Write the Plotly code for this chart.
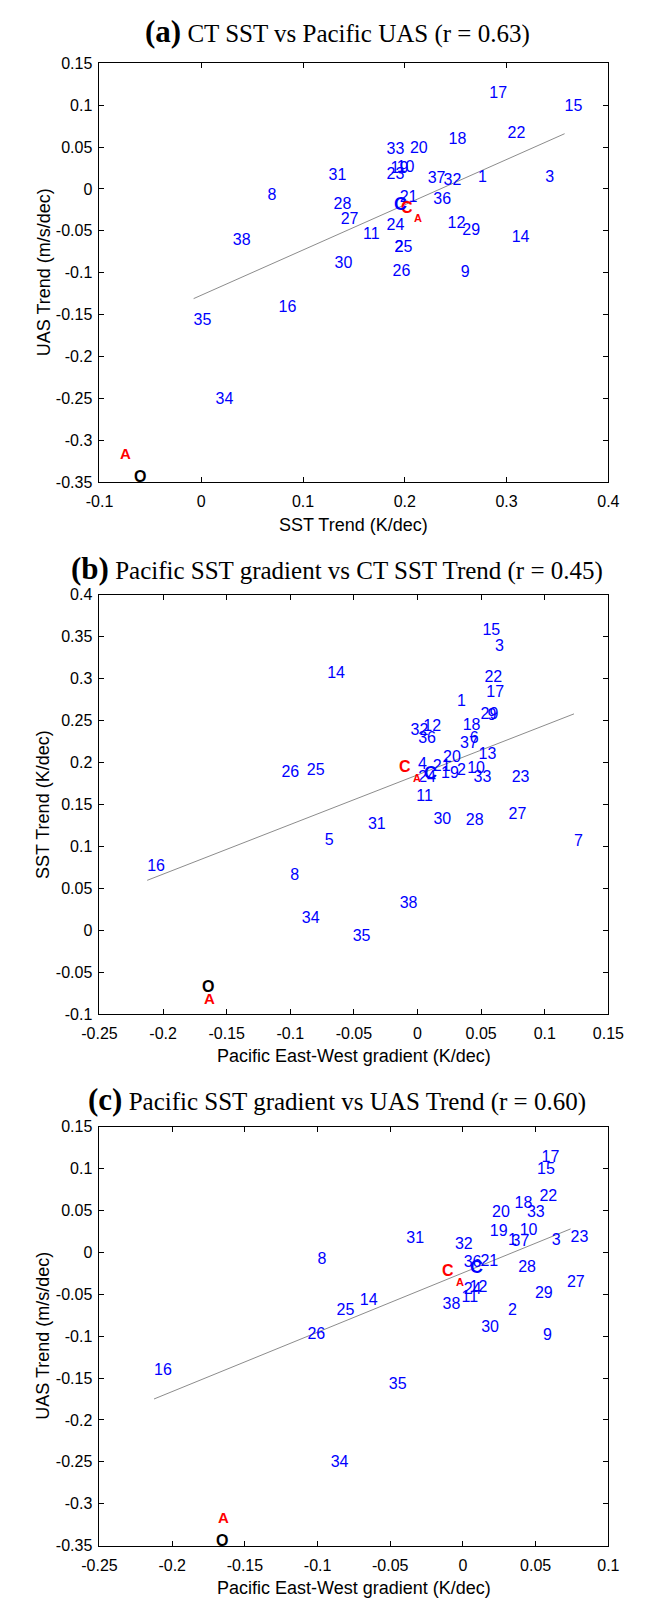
import plotly.graph_objects as go

# ---------------- data ----------------
models = [str(i) for i in range(1, 39)]

# CT SST trend (K/dec)
sst_trend = [0.272, 0.190, 0.338, 0.197, 0.107, 0.228, 0.105, 0.065, 0.255, 0.192,
             0.159, 0.242, 0.209, 0.305, 0.357, 0.076, 0.283, 0.243, 0.186, 0.205,
             0.195, 0.301, 0.182, 0.182, 0.190, 0.188, 0.137, 0.130, 0.2565, 0.131,
             0.125, 0.238, 0.182, 0.014, -0.0075, 0.228, 0.2225, 0.031]

# Pacific UAS trend (m/s/dec); None = not available
uas_trend = [0.013, -0.070, 0.013, None, None, None, None, -0.009, -0.100, 0.025,
             -0.055, -0.042, None, -0.058, 0.098, -0.142, 0.113, 0.058, 0.024, 0.0475,
             -0.011, 0.066, 0.017, -0.0445, -0.0705, -0.099, -0.0365, -0.019, -0.050, -0.090,
             0.016, 0.009, 0.047, -0.252, -0.158, -0.013, 0.0125, -0.0625]

# Pacific East-West SST gradient trend (K/dec)
pac_grad = [0.031, 0.031, 0.061, 0.0003, -0.073, 0.041, 0.123, -0.100, 0.055, 0.039,
            -0.001, 0.0045, 0.048, -0.071, 0.051, -0.2125, 0.054, 0.0355, 0.0185, 0.020,
            0.012, 0.0526, 0.074, 0.0005, -0.087, -0.107, 0.0715, 0.038, 0.0495, 0.0125,
            -0.039, -0.0055, 0.044, -0.091, -0.051, 0.0005, 0.0334, -0.014]

# special labels: red C (with subscript A), blue C, red A, black O
spec_names = ["CA", "Cb", "A", "O"]
spec_sst = [0.195, 0.188, -0.081, -0.067]
spec_uas = [-0.022, -0.0176, -0.316, -0.344]
spec_grad = [-0.015, 0.004, -0.169, -0.1705]

# regression line end values (y at min / max x of the models)
fit_a = [-0.131, 0.066]
fit_b = [0.0596, 0.258]
fit_c = [-0.175, 0.028]

ticks_sst_x = [-0.1, 0.0, 0.1, 0.2, 0.3, 0.4]
ticks_uas = [-0.35, -0.3, -0.25, -0.2, -0.15, -0.1, -0.05, 0.0, 0.05, 0.1, 0.15]
ticks_grad_b = [-0.25, -0.2, -0.15, -0.1, -0.05, 0.0, 0.05, 0.1, 0.15]
ticks_sst_y = [-0.1, -0.05, 0.0, 0.05, 0.1, 0.15, 0.2, 0.25, 0.3, 0.35, 0.4]
ticks_grad_c = [-0.25, -0.2, -0.15, -0.1, -0.05, 0.0, 0.05, 0.1]

titles = ["<span style='font-size:31px'><b>(a)</b></span> CT SST vs Pacific UAS (r = 0.63)",
          "<span style='font-size:31px'><b>(b)</b></span> Pacific SST gradient vs CT SST Trend (r = 0.45)",
          "<span style='font-size:31px'><b>(c)</b></span> Pacific SST gradient vs UAS Trend (r = 0.60)"]
xtitles = ["SST Trend (K/dec)", "Pacific East-West gradient (K/dec)", "Pacific East-West gradient (K/dec)"]
ytitles = ["UAS Trend (m/s/dec)", "SST Trend (K/dec)", "UAS Trend (m/s/dec)"]

# ---------------- layout geometry ----------------
W, H = 649, 1608
X0, X1 = 86, 623
panel_px = [(56, 479), (593, 1017), (1130.7, 1554)]
title_y = [24, 566, 1103]
xtitle_y = [523, 1059, 1597]


def py(p):
    return 1 - p / H


def fmt(v):
    s = f"{round(v, 2):g}"
    return "0" if s in ("-0", "0") else s


SANS = "Liberation Sans, Arial, sans-serif"
SERIF = "Liberation Serif, Times New Roman, serif"

fig = go.Figure()

panels = [
    dict(x=sst_trend, y=uas_trend, sx=spec_sst, sy=spec_uas, fit=fit_a,
         xr=[-0.1, 0.4], yr=[-0.35, 0.15], xt=ticks_sst_x, yt=ticks_uas),
    dict(x=pac_grad, y=sst_trend, sx=spec_grad, sy=spec_sst, fit=fit_b,
         xr=[-0.25, 0.15], yr=[-0.1, 0.4], xt=ticks_grad_b, yt=ticks_sst_y),
    dict(x=pac_grad, y=uas_trend, sx=spec_grad, sy=spec_uas, fit=fit_c,
         xr=[-0.25, 0.1], yr=[-0.35, 0.15], xt=ticks_grad_c, yt=ticks_uas),
]

annotations = []
for i, p in enumerate(panels):
    xa = "x" if i == 0 else f"x{i+1}"
    ya = "y" if i == 0 else f"y{i+1}"
    pts = [(xv, yv, m) for xv, yv, m in zip(p["x"], p["y"], models) if xv is not None and yv is not None]
    xs = [t[0] for t in pts]
    ys = [t[1] for t in pts]
    labs = [t[2] for t in pts]

    # regression line over the model x-range
    fig.add_trace(go.Scatter(x=[min(xs), max(xs)], y=p["fit"], mode="lines",
                             line=dict(color="#8c8c8c", width=1),
                             xaxis=xa, yaxis=ya, showlegend=False, hoverinfo="skip"))
    # model numbers
    fig.add_trace(go.Scatter(x=xs, y=ys, mode="text", text=labs, textposition="middle right",
                             textfont=dict(family=SANS, size=16, color="#0000ff"),
                             xaxis=xa, yaxis=ya, showlegend=False, hoverinfo="skip",
                             cliponaxis=False))

    # special labels
    for name, sxv, syv in zip(spec_names, p["sx"], p["sy"]):
        base = dict(x=sxv, y=syv, xref=xa, yref=ya, xanchor="left", yanchor="middle",
                    showarrow=False, borderpad=0)
        if name == "CA":
            annotations.append(dict(base, text="<b>C</b>", font=dict(family=SANS, size=16, color="#ff0000")))
            annotations.append(dict(base, text="<b>A</b>", xshift=13.5, yshift=-11,
                                    font=dict(family=SANS, size=11, color="#ff0000")))
        elif name == "Cb":
            annotations.append(dict(base, text="<b>C</b>", font=dict(family=SANS, size=18, color="#0000ff")))
        elif name == "A":
            annotations.append(dict(base, text="<b>A</b>", font=dict(family=SANS, size=15, color="#ff0000")))
        else:
            annotations.append(dict(base, text="<b>O</b>", font=dict(family=SANS, size=16, color="#000000")))

    top, bot = panel_px[i]
    axis_common = dict(ticks="inside", ticklen=5, tickwidth=1, tickcolor="black",
                       showline=True, linecolor="black", linewidth=1, mirror="ticks",
                       showgrid=False, zeroline=False,
                       tickfont=dict(family=SANS, size=16, color="black"))
    fig.layout[("xaxis" if i == 0 else f"xaxis{i+1}")] = dict(
        axis_common, domain=[X0 / W, X1 / W], range=p["xr"], anchor=ya,
        tickvals=p["xt"], ticktext=[fmt(v) for v in p["xt"]], ticklabelstandoff=5)
    fig.layout[("yaxis" if i == 0 else f"yaxis{i+1}")] = dict(
        axis_common, domain=[py(bot), py(top)], range=p["yr"], anchor=xa,
        tickvals=p["yt"], ticktext=[fmt(v) for v in p["yt"]], ticklabelstandoff=3)

    # titles
    annotations.append(dict(text=titles[i], xref="paper", yref="paper", x=337 / W, y=py(title_y[i]),
                            xanchor="center", yanchor="middle", showarrow=False,
                            font=dict(family=SERIF, size=25, color="black")))
    annotations.append(dict(text=xtitles[i], xref="paper", yref="paper", x=(X0 + X1) / 2 / W,
                            y=py(xtitle_y[i]), xanchor="center", yanchor="middle", showarrow=False,
                            font=dict(family=SANS, size=18, color="black")))
    annotations.append(dict(text=ytitles[i], xref="paper", yref="paper", x=27 / W,
                            y=py((top + bot) / 2), xanchor="center", yanchor="middle",
                            textangle=-90, showarrow=False,
                            font=dict(family=SANS, size=18, color="black")))

fig.update_layout(width=W, height=H, margin=dict(l=0, r=0, t=0, b=0),
                  paper_bgcolor="white", plot_bgcolor="white", annotations=annotations)

fig.write_html("out.html", config={"displayModeBar": False},
               post_script="document.body.style.margin='0';")
